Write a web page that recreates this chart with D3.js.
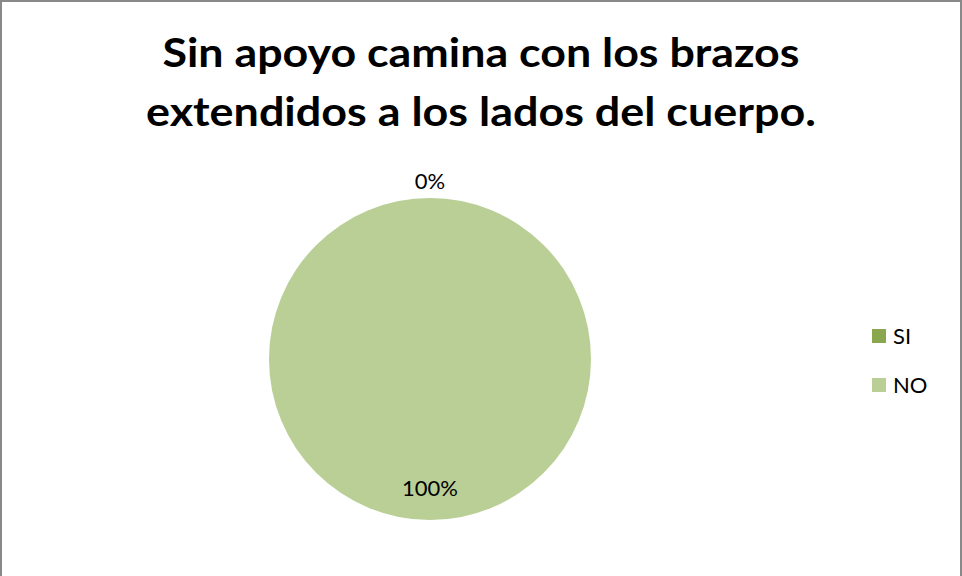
<!DOCTYPE html>
<html><head><meta charset="utf-8">
<script src="https://cdn.jsdelivr.net/npm/d3@7"></script>
<style>body{margin:0;background:#fff}svg{display:block}</style>
</head><body>
<svg id="c" width="962" height="576"></svg>
<script>
const titleLines = ["Sin apoyo camina con los brazos", "extendidos a los lados del cuerpo."];
const categories = ["SI", "NO"];
const values = [0, 100];
const colors = ["#8AA64F", "#B9CF96"];

const svg = d3.select("#c");
const W = 962, H = 576;
const font = "Lato, 'Open Sans', sans-serif";

svg.append("rect").attr("x", 1).attr("y", 1).attr("width", W - 2).attr("height", H + 10)
  .attr("fill", "#fff").attr("stroke", "#898989").attr("stroke-width", 2);

const titleWidths = [637, 670];
svg.append("g").selectAll("text").data(titleLines).join("text")
  .attr("x", 481).attr("y", (d, i) => 67 + i * 59)
  .attr("text-anchor", "middle").attr("font-family", font).attr("font-weight", "bold")
  .attr("font-size", 40).attr("fill", "#000")
  .attr("textLength", (d, i) => titleWidths[i]).attr("lengthAdjust", "spacingAndGlyphs")
  .text(d => d);

const cx = 430, cy = 359, r = 161;
const data = categories.map((c, i) => ({ c, v: values[i], col: colors[i] }));
const pie = d3.pie().sort(null).value(d => d.v);
const arcs = pie(data);
const arc = d3.arc().innerRadius(0).outerRadius(r);
const g = svg.append("g").attr("transform", `translate(${cx},${cy})`);
g.selectAll("path").data(arcs).join("path").attr("d", arc).attr("fill", d => d.data.col);

const total = d3.sum(values);
const fmt = d3.format(".0%");
g.selectAll("text.lbl").data(arcs).join("text").attr("class", "lbl")
  .attr("x", 0)
  .attr("y", d => d.data.v / total < 0.5 ? -r - 9 : r * 0.85)
  .attr("text-anchor", "middle").attr("font-family", font).attr("font-size", 22)
  .attr("fill", "#000").text(d => fmt(d.data.v / total));

const lg = svg.append("g");
const item = lg.selectAll("g").data(data).join("g")
  .attr("transform", (d, i) => `translate(872,${329 + i * 49})`);
item.append("rect").attr("width", 14).attr("height", 14).attr("fill", d => d.col);
item.append("text").attr("x", 21).attr("y", 15).attr("font-family", font)
  .attr("font-size", 22).attr("fill", "#000").text(d => d.c);
</script>
</body></html>
